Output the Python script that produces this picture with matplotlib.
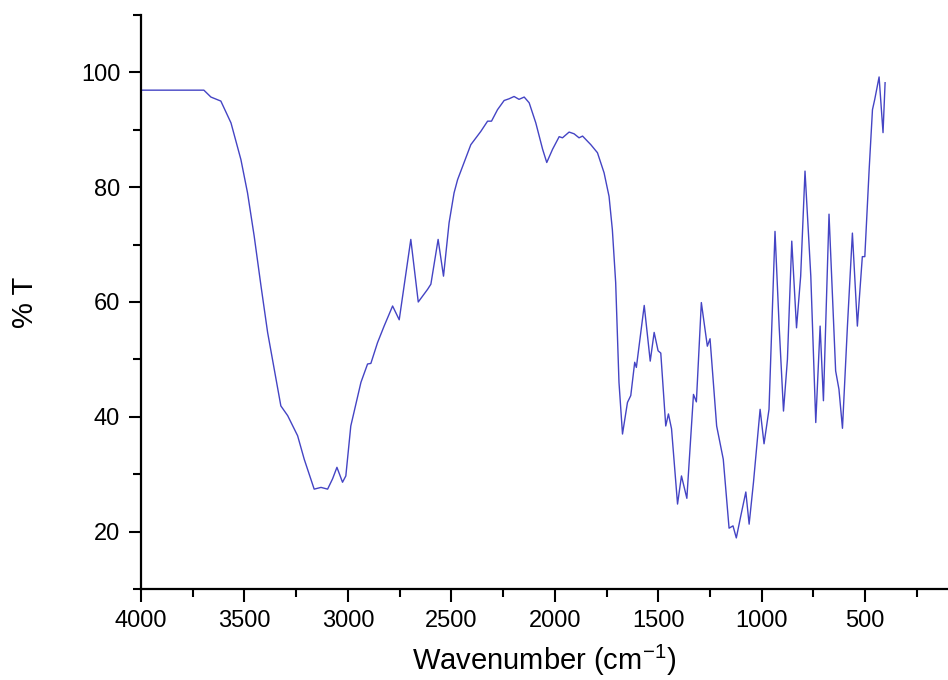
import matplotlib
matplotlib.use("Agg")
import matplotlib.pyplot as plt
from matplotlib.ticker import MultipleLocator

wavenumber = [
    4000, 3850, 3696, 3662, 3614, 3565, 3517, 3485, 3453, 3420, 3388, 3356, 3324,
    3291, 3243, 3211, 3163, 3130, 3098, 3074, 3053, 3026, 3010, 2986, 2937, 2905,
    2889, 2857, 2825, 2784, 2752, 2696, 2660, 2615, 2599, 2564, 2538, 2511, 2487,
    2470, 2406, 2358, 2325, 2306, 2277, 2245, 2221, 2197, 2173, 2148, 2124, 2092,
    2059, 2039, 2011, 1979, 1963, 1931, 1907, 1883, 1866, 1826, 1794, 1762, 1738,
    1722, 1706, 1698, 1690, 1673, 1649, 1633, 1614, 1606, 1568, 1539, 1520, 1501,
    1488, 1464, 1451, 1436, 1407, 1388, 1362, 1330, 1316, 1292, 1263, 1250, 1218,
    1186, 1158, 1139, 1123, 1101, 1077, 1061, 1040, 1008, 989, 965, 936, 916, 895,
    876, 855, 832, 812, 791, 763, 739, 718, 702, 675, 643, 627, 610, 586, 562, 538,
    514, 502, 481, 465, 454, 433, 414, 404,
]
transmittance = [
    96.9, 96.9, 96.9, 95.7, 95.0, 91.2, 84.8, 79.0, 71.5, 62.8, 54.7, 48.3, 41.9,
    40.2, 36.7, 32.6, 27.4, 27.7, 27.4, 29.2, 31.2, 28.6, 29.7, 38.4, 46.0, 49.2,
    49.3, 52.9, 55.8, 59.3, 56.9, 70.9, 60.0, 62.2, 63.1, 70.9, 64.5, 73.8, 79.0,
    81.3, 87.4, 89.7, 91.5, 91.5, 93.5, 95.1, 95.4, 95.8, 95.3, 95.7, 94.7, 91.2,
    86.6, 84.3, 86.6, 88.8, 88.6, 89.6, 89.3, 88.6, 88.9, 87.4, 86.0, 82.5, 78.4,
    72.6, 63.4, 54.7, 46.0, 37.0, 42.5, 43.7, 49.5, 48.6, 59.4, 49.7, 54.7, 51.5,
    51.1, 38.4, 40.5, 37.9, 24.8, 29.7, 25.8, 43.9, 42.6, 59.9, 52.3, 53.6, 38.4,
    32.6, 20.6, 21.0, 18.9, 22.8, 26.9, 21.3, 28.6, 41.3, 35.3, 41.3, 72.3, 55.8, 41.0,
    50.0, 70.6, 55.5, 64.5, 82.8, 64.5, 39.0, 55.8, 42.8, 75.3, 48.0, 44.8, 38.0, 55.8,
    72.0, 55.8, 67.9, 67.9, 83.1, 93.5, 95.3, 99.2, 89.5, 98.2,
]

x_ticks = [4000, 3500, 3000, 2500, 2000, 1500, 1000, 500]
y_ticks = [20, 40, 60, 80, 100]

plt.rcParams['font.family'] = ['Liberation Sans', 'DejaVu Sans']
plt.rcParams['mathtext.fontset'] = 'custom'
plt.rcParams['mathtext.rm'] = 'Liberation Sans'
plt.rcParams['mathtext.default'] = 'regular'

fig = plt.figure(figsize=(9.48, 6.8), dpi=100)
ax = fig.add_axes([0.1487, 0.1338, 0.8513, 0.8442])

ax.plot(wavenumber, transmittance, color='#4444c4', linewidth=1.0)

ax.set_xlim(4000, 100)
ax.set_ylim(10, 110)
ax.set_xticks(x_ticks)
ax.set_yticks(y_ticks)
ax.xaxis.set_minor_locator(MultipleLocator(250))
ax.yaxis.set_minor_locator(MultipleLocator(10))

for s in ['top', 'right']:
    ax.spines[s].set_visible(False)
for s in ['left', 'bottom']:
    ax.spines[s].set_linewidth(1.6)

ax.tick_params(axis='both', which='major', direction='out', length=9, width=1.5,
               labelsize=17, pad=6)
ax.tick_params(axis='both', which='minor', direction='out', length=6, width=1.5)

ax.set_xlabel('Wavenumber (cm$^{-1}$)', fontsize=21, labelpad=8)
ax.set_ylabel('% T', fontsize=21, labelpad=30)

fig.savefig('out.png', dpi=100)
